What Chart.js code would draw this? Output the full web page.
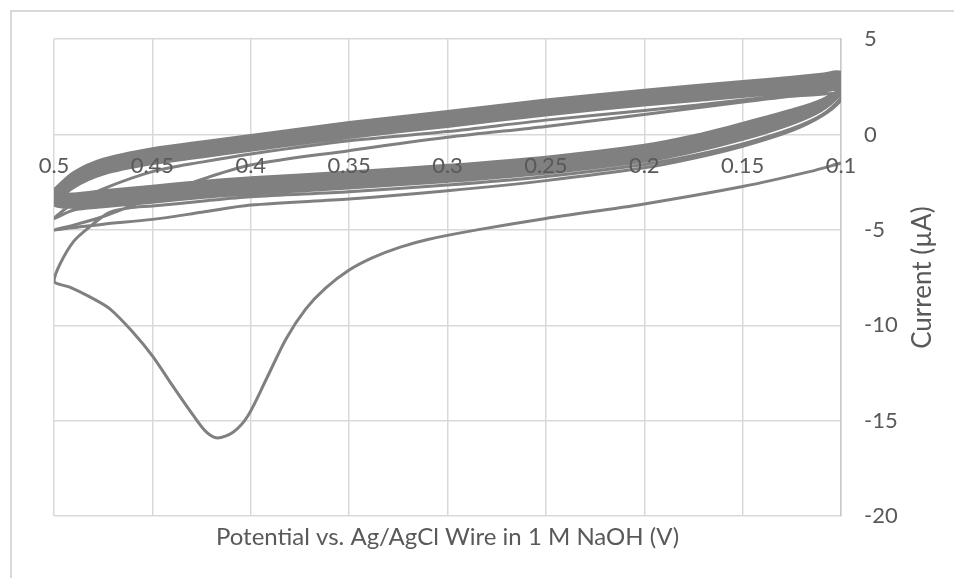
<!DOCTYPE html>
<html>
<head>
<meta charset="utf-8">
<script src="https://cdn.jsdelivr.net/npm/chart.js@4.4.1/dist/chart.umd.min.js"></script>
<style>
  html, body { margin: 0; padding: 0; background: #ffffff; overflow: hidden; }
  #wrap { position: relative; width: 954px; height: 578px; }
  #cv { position: absolute; left: 0; top: 0; }
  #frame { position: absolute; left: 10px; top: 10px; width: 1400px; height: 1000px;
           border: 2px solid #d9d9d9; box-sizing: border-box; pointer-events: none; }
</style>
</head>
<body>
<div id="wrap">
  <canvas id="cv" width="954" height="578"></canvas>
  <div id="frame"></div>
</div>
<script>
// Cyclic voltammogram, 0.1 V <-> 0.5 V vs. Ag/AgCl wire in 1 M NaOH.
// Potential in V, current in µA. The trace is one continuous recording,
// stored sweep by sweep.

// first sweep with the large reduction peak
const potFirst = [0.1, 0.116, 0.15, 0.2, 0.25, 0.285, 0.31, 0.324, 0.338, 0.35, 0.362, 0.372, 0.382,
                  0.392, 0.4015, 0.409, 0.417, 0.4225, 0.429, 0.4395, 0.45, 0.46, 0.4716, 0.482, 0.492, 0.5];
const curFirst = [-1.5, -1.95, -2.73, -3.64, -4.4, -5.0, -5.5, -5.9, -6.45, -7.1, -8.05, -9.14, -10.7,
                  -12.8, -14.75, -15.6, -15.9, -15.6, -14.75, -13.2, -11.6, -10.35, -9.14, -8.5, -8.0, -7.7];

// sweep back, starting with the transient
const potTransient = [0.5, 0.497, 0.49, 0.482, 0.472, 0.462, 0.45, 0.425, 0.4, 0.35, 0.3, 0.25,
                      0.2, 0.175, 0.15, 0.125, 0.11, 0.1];
const curTransient = [-7.7, -6.8, -5.6, -4.85, -4.1, -3.85, -3.75, -3.5, -3.27, -3.0, -2.65, -2.2,
                      -1.57, -1.1, -0.5, 0.3, 1.0, 1.9];

// second forward sweep
const potSecond = [0.1, 0.11, 0.125, 0.15, 0.2, 0.25, 0.3, 0.35, 0.4, 0.428, 0.45, 0.475, 0.49, 0.5];
const curSecond = [2.15, 2.1, 2.0, 1.7, 1.05, 0.42, -0.15, -0.85, -1.6, -2.46, -3.3, -4.3, -4.75, -5.0];

// potential grids shared by the later sweeps
const potToLow  = [0.5, 0.49, 0.475, 0.45, 0.425, 0.4, 0.35, 0.3, 0.25, 0.2, 0.175, 0.15, 0.125, 0.11, 0.1];
const potToHigh = [0.1, 0.11, 0.125, 0.15, 0.2, 0.25, 0.3, 0.35, 0.4, 0.425, 0.45, 0.475, 0.49, 0.5];

// cycle 2
const curLowC2  = [-5.0, -4.88, -4.7, -4.45, -4.08, -3.7, -3.38, -2.95, -2.42, -1.75, -1.25, -0.62, 0.2, 0.95, 1.8];
const curHighC2 = [2.35, 2.25, 2.1, 1.8, 1.25, 0.75, 0.15, -0.33, -1.02, -1.45, -1.95, -2.85, -3.6, -4.4];
// cycles 3 to 9
const curLowC3  = [-4.4, -3.96, -3.79, -3.55, -3.31, -3.11, -2.81, -2.46, -2.03, -1.41, -0.91, -0.26, 0.56, 1.26, 2.15];
const curHighC3 = [2.47, 2.37, 2.22, 1.99, 1.54, 1.02, 0.42, -0.16, -0.83, -1.18, -1.53, -2.08, -2.78, -3.68];
const curLowC4  = [-3.68, -3.82, -3.65, -3.41, -3.17, -2.97, -2.67, -2.32, -1.89, -1.27, -0.77, -0.12, 0.68, 1.35, 2.2];
const curHighC4 = [2.6, 2.5, 2.35, 2.12, 1.67, 1.15, 0.55, -0.03, -0.7, -1.05, -1.4, -1.95, -2.65, -3.55];
const curLowC5  = [-3.55, -3.68, -3.51, -3.27, -3.03, -2.83, -2.53, -2.18, -1.75, -1.13, -0.63, 0.02, 0.8, 1.44, 2.25];
const curHighC5 = [2.73, 2.63, 2.48, 2.25, 1.8, 1.28, 0.68, 0.1, -0.57, -0.92, -1.27, -1.82, -2.52, -3.42];
const curLowC6  = [-3.42, -3.54, -3.37, -3.13, -2.89, -2.69, -2.39, -2.04, -1.61, -0.99, -0.49, 0.16, 0.92, 1.53, 2.3];
const curHighC6 = [2.86, 2.76, 2.61, 2.38, 1.93, 1.41, 0.81, 0.23, -0.44, -0.79, -1.14, -1.69, -2.39, -3.29];
const curLowC7  = [-3.29, -3.4, -3.23, -2.99, -2.75, -2.55, -2.25, -1.9, -1.47, -0.85, -0.35, 0.3, 1.04, 1.62, 2.35];
const curHighC7 = [2.99, 2.89, 2.74, 2.51, 2.06, 1.54, 0.94, 0.36, -0.31, -0.66, -1.01, -1.56, -2.26, -3.16];
const curLowC8  = [-3.16, -3.26, -3.09, -2.85, -2.61, -2.41, -2.11, -1.76, -1.33, -0.71, -0.21, 0.44, 1.16, 1.71, 2.4];
const curHighC8 = [3.12, 3.02, 2.87, 2.64, 2.19, 1.67, 1.07, 0.49, -0.18, -0.53, -0.88, -1.43, -2.13, -3.03];
const curLowC9  = [-3.03, -3.12, -2.95, -2.71, -2.47, -2.27, -1.97, -1.62, -1.19, -0.57, -0.07, 0.58, 1.28, 1.8, 2.45];
const curHighC9 = [3.25, 3.15, 3.0, 2.77, 2.32, 1.8, 1.2, 0.62, -0.05, -0.4, -0.75, -1.3, -2.0, -2.9];

// axis ticks and titles
const xTicks = [0.5, 0.45, 0.4, 0.35, 0.3, 0.25, 0.2, 0.15, 0.1];
const yTicks = [5, 0, -5, -10, -15, -20];
const xTitle = 'Potential vs. Ag/AgCl Wire in 1 M NaOH (V)';
const yTitle = 'Current (\u00b5A)';

const sweeps = [
  [potFirst, curFirst], [potTransient, curTransient], [potSecond, curSecond],
  [potToLow, curLowC2], [potToHigh, curHighC2],
  [potToLow, curLowC3], [potToHigh, curHighC3],
  [potToLow, curLowC4], [potToHigh, curHighC4],
  [potToLow, curLowC5], [potToHigh, curHighC5],
  [potToLow, curLowC6], [potToHigh, curHighC6],
  [potToLow, curLowC7], [potToHigh, curHighC7],
  [potToLow, curLowC8], [potToHigh, curHighC8],
  [potToLow, curLowC9], [potToHigh, curHighC9]
];

// join the sweeps into one trace, dropping repeated turning points
const trace = [];
for (const [pots, curs] of sweeps) {
  pots.forEach((p, i) => {
    const last = trace[trace.length - 1];
    if (!last || last.x !== p || last.y !== curs[i]) trace.push({ x: p, y: curs[i] });
  });
}

const FONT = 'Lato, "Open Sans", sans-serif';
const TICK_SIZE = 22;
const XTITLE_SIZE = 24;
const YTITLE_SIZE = 26;
const TEXT = '#595959';
const GRID = '#d9d9d9';
const LINE = '#808080';

const yTitlePlugin = {
  id: 'yTitleUpward',
  afterDraw(chart) {
    const { ctx, chartArea, scales } = chart;
    ctx.save();
    ctx.translate(scales.y.right + 22, (chartArea.top + chartArea.bottom) / 2);
    ctx.rotate(-Math.PI / 2);
    ctx.font = YTITLE_SIZE + 'px ' + FONT;
    ctx.fillStyle = TEXT;
    ctx.textAlign = 'center';
    ctx.textBaseline = 'middle';
    ctx.fillText(yTitle, 0, 0);
    ctx.restore();
  }
};

new Chart(document.getElementById('cv'), {
  type: 'scatter',
  data: {
    datasets: [{
      data: trace,
      showLine: true,
      borderColor: LINE,
      borderWidth: 3,
      pointRadius: 0,
      pointHoverRadius: 0,
      tension: 0.3,
      fill: false
    }]
  },
  options: {
    responsive: false,
    animation: false,
    events: [],
    layout: { padding: { left: 54, top: 39, right: 53, bottom: 26 } },
    plugins: { legend: { display: false }, tooltip: { enabled: false } },
    scales: {
      x: {
        type: 'linear', position: 'bottom', reverse: true,
        min: Math.min(...xTicks), max: Math.max(...xTicks),
        afterBuildTicks: s => { s.ticks = xTicks.map(v => ({ value: v })); },
        ticks: { display: false },
        grid: { color: GRID, lineWidth: 1.5, drawTicks: false },
        border: { display: false },
        title: { display: true, text: xTitle, color: TEXT,
                 font: { family: FONT, size: XTITLE_SIZE }, padding: { top: 7, bottom: 0 } }
      },
      xLabels: {
        type: 'linear', axis: 'x', position: { y: 0 }, reverse: true,
        min: Math.min(...xTicks), max: Math.max(...xTicks),
        afterBuildTicks: s => { s.ticks = xTicks.map(v => ({ value: v })); },
        afterFit: s => { s.height = 0; s.paddingLeft = 0; s.paddingRight = 0; },
        ticks: { padding: 18, color: TEXT, font: { family: FONT, size: TICK_SIZE }, z: 1,
                 maxRotation: 0, autoSkip: false, callback: v => String(+v.toFixed(2)) },
        grid: { display: false, drawTicks: false },
        border: { display: false }
      },
      y: {
        type: 'linear', position: 'right',
        min: Math.min(...yTicks), max: Math.max(...yTicks),
        afterBuildTicks: s => { s.ticks = yTicks.slice().reverse().map(v => ({ value: v })); },
        afterFit: s => { s.width = 60; },
        ticks: { padding: 23, color: TEXT, font: { family: FONT, size: TICK_SIZE } },
        grid: { color: GRID, lineWidth: 1.5, drawTicks: false },
        border: { display: true, color: '#c9c9c9', width: 1.5 }
      }
    }
  },
  plugins: [yTitlePlugin]
});
</script>
</body>
</html>
